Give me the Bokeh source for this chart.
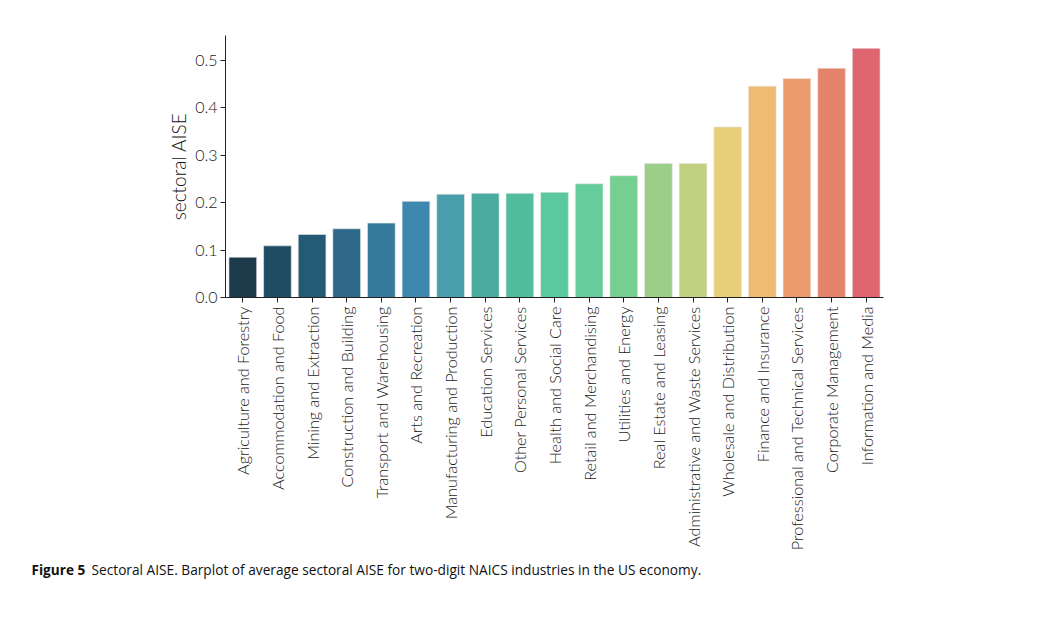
import math
from bokeh.plotting import figure
from bokeh.layouts import column, row
from bokeh.models import ColumnDataSource, Range1d, FixedTicker, NumeralTickFormatter
from bokeh.core.properties import value
from bokeh.embed import file_html
from bokeh.resources import INLINE

industries = [
    "Agriculture and Forestry", "Accommodation and Food", "Mining and Extraction",
    "Construction and Building", "Transport and Warehousing", "Arts and Recreation",
    "Manufacturing and Production", "Education Services", "Other Personal Services",
    "Health and Social Care", "Retail and Merchandising", "Utilities and Energy",
    "Real Estate and Leasing", "Administrative and Waste Services",
    "Wholesale and Distribution", "Finance and Insurance",
    "Professional and Technical Services", "Corporate Management",
    "Information and Media",
]
aise = [0.085, 0.109, 0.133, 0.145, 0.157, 0.203, 0.218, 0.220, 0.220, 0.222,
        0.240, 0.257, 0.283, 0.283, 0.360, 0.446, 0.462, 0.484, 0.526]
bar_colors = ["#1c3a4a", "#1e4d63", "#245a74", "#2d6888", "#367a9c", "#3e88b0",
              "#4a9dab", "#4aab9f", "#52bc9d", "#5ac9a0", "#64cd9b", "#74cf91",
              "#9bcf87", "#c2d081", "#e9cf7a", "#efba71", "#eb9c6c", "#e5846d",
              "#df6670"]
y_ticks = [0.0, 0.1, 0.2, 0.3, 0.4, 0.5]
caption_bold = "Figure 5"
caption_text = "Sectoral AISE. Barplot of average sectoral AISE for two-digit NAICS industries in the US economy."

source = ColumnDataSource(dict(industry=industries, aise=aise, color=bar_colors))

p = figure(x_range=industries, width=1059, height=560,
           output_backend="svg", toolbar_location=None,
           min_border_left=225, min_border_right=176,
           min_border_top=35, min_border_bottom=263)
p.y_range = Range1d(0, 0.553)
p.x_range.range_padding = 0.0

p.vbar(x="industry", top="aise", width=0.8, source=source,
       fill_color="color", line_color="#e8e8e8", line_width=0.6)

p.outline_line_color = None
p.xgrid.grid_line_color = None
p.ygrid.grid_line_color = None
p.background_fill_color = "white"
p.border_fill_color = "white"

font = "Lato Light"
p.yaxis.ticker = FixedTicker(ticks=y_ticks)
p.yaxis.formatter = NumeralTickFormatter(format="0.0")
p.yaxis.axis_label = "sectoral AISE"
p.yaxis.axis_label_text_font = font
p.yaxis.axis_label_text_font_size = "19px"
p.yaxis.axis_label_text_font_style = "normal"
p.yaxis.axis_label_text_color = "#111111"
p.yaxis.axis_label_standoff = 2
p.yaxis.major_label_text_font = font
p.yaxis.major_label_text_font_size = "16px"
p.yaxis.major_label_text_color = "#1a1a1a"
p.yaxis.major_label_standoff = 3
p.yaxis.minor_tick_line_color = None
p.yaxis.major_tick_out = 5
p.yaxis.major_tick_in = 0
p.yaxis.axis_line_color = "#222222"
p.yaxis.major_tick_line_color = "#222222"

p.xaxis.major_label_orientation = math.pi / 2
p.xaxis.major_label_text_font = font
p.xaxis.major_label_text_font_size = "16.2px"
p.xaxis.major_label_text_color = "#1a1a1a"
p.xaxis.major_tick_out = 5
p.xaxis.major_tick_in = 0
p.xaxis.axis_line_color = "#222222"
p.xaxis.major_tick_line_color = "#222222"
p.xaxis.major_label_standoff = 4

cap = figure(width=1059, height=64, output_backend="svg", toolbar_location=None,
             x_range=Range1d(0, 1059), y_range=Range1d(64, 0),
             x_axis_location=None, y_axis_location=None, min_border=0)
cap.grid.visible = False
cap.outline_line_color = None
cap.border_fill_color = "white"
cap.text(x=[31], y=[9], text=[caption_bold], text_font=value("Open Sans"),
         text_font_style="bold", text_font_size="13.6px", text_color="#111111",
         text_baseline="middle", text_align="left")
cap.text(x=[91], y=[9], text=[caption_text], text_font=value("Open Sans"),
         text_font_size="13.7px", text_color="#111111",
         text_baseline="middle", text_align="left")

layout = column(p, row(cap), spacing=0)
open("out.html", "w").write(file_html(layout, INLINE))
